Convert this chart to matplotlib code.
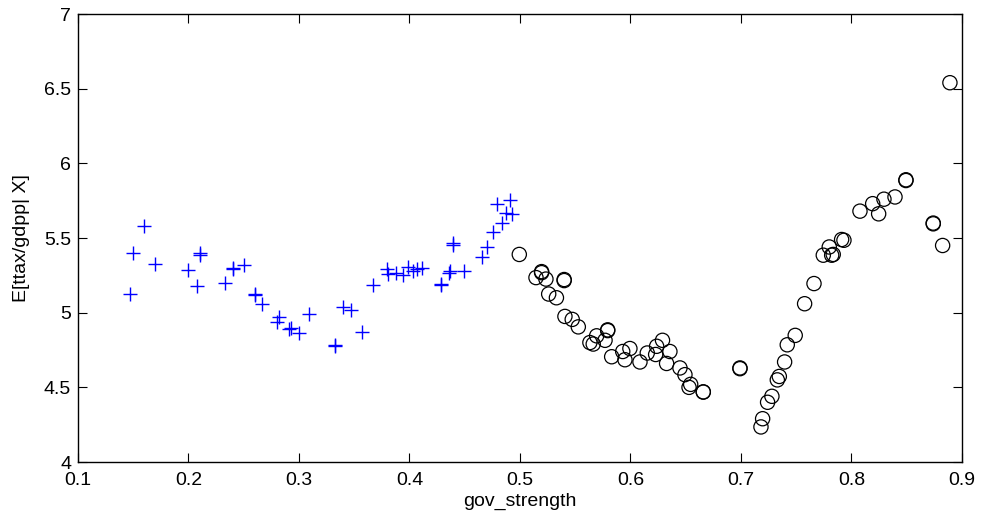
import numpy as np
import matplotlib
matplotlib.use("Agg")
import matplotlib.pyplot as plt

plt.rcParams['font.family'] = ['Liberation Sans', 'DejaVu Sans']

# low gov_strength group (blue pluses)
x_low = [0.160, 0.150, 0.210, 0.210, 0.170, 0.200, 0.240, 0.240, 0.250, 0.147,
         0.208, 0.233, 0.260, 0.260, 0.2665, 0.282, 0.280, 0.291, 0.293, 0.300,
         0.309, 0.333, 0.333, 0.3395, 0.347, 0.357, 0.367, 0.380, 0.381, 0.388,
         0.394, 0.399, 0.4035, 0.407, 0.4116, 0.4285, 0.4285, 0.436, 0.437, 0.4396,
         0.4396, 0.449, 0.466, 0.470, 0.476, 0.484, 0.487, 0.493, 0.4795, 0.491]
y_low = [5.582, 5.399, 5.399, 5.385, 5.327, 5.284, 5.301, 5.290, 5.317, 5.127,
         5.181, 5.199, 5.127, 5.120, 5.056, 4.971, 4.940, 4.893, 4.897, 4.864,
         4.989, 4.785, 4.775, 5.038, 5.016, 4.873, 5.185, 5.294, 5.261, 5.268,
         5.250, 5.304, 5.281, 5.290, 5.297, 5.194, 5.184, 5.264, 5.281, 5.464,
         5.455, 5.277, 5.375, 5.442, 5.538, 5.598, 5.669, 5.659, 5.726, 5.754]

# high gov_strength group (black circles)
x_high = [0.4994, 0.5196, 0.5196, 0.5145, 0.5235, 0.540, 0.540, 0.526, 0.533, 0.5407,
          0.5473, 0.5528, 0.5694, 0.5794, 0.5794, 0.577, 0.5633, 0.5663, 0.583, 0.593,
          0.5995, 0.595, 0.6086, 0.6152, 0.6228, 0.6237, 0.629, 0.6357, 0.6327, 0.6448,
          0.6493, 0.6545, 0.653, 0.6659, 0.6659, 0.6991, 0.6991, 0.7181, 0.7196, 0.7241,
          0.728, 0.7329, 0.7347, 0.7395, 0.7419, 0.7491, 0.7576, 0.7661, 0.7745, 0.7799,
          0.7821, 0.7835, 0.7911, 0.7932, 0.8077, 0.8192, 0.8246, 0.8294, 0.8394, 0.8493,
          0.8493, 0.874, 0.874, 0.8825, 0.8891]
y_high = [5.390, 5.275, 5.268, 5.235, 5.225, 5.222, 5.215, 5.125, 5.100, 4.975,
          4.955, 4.905, 4.845, 4.885, 4.880, 4.815, 4.800, 4.790, 4.705, 4.740,
          4.760, 4.685, 4.670, 4.730, 4.720, 4.775, 4.815, 4.740, 4.660, 4.630,
          4.585, 4.520, 4.500, 4.470, 4.468, 4.630, 4.625, 4.235, 4.290, 4.400,
          4.440, 4.550, 4.573, 4.670, 4.785, 4.848, 5.060, 5.195, 5.385, 5.440,
          5.385, 5.390, 5.490, 5.485, 5.680, 5.730, 5.662, 5.760, 5.775, 5.890,
          5.885, 5.600, 5.595, 5.450, 6.540]

fig = plt.figure(figsize=(9.83, 5.27), dpi=100)
ax = fig.add_axes([0.0793, 0.1233, 0.8993, 0.8501])

ax.scatter(x_low, y_low, marker="+", s=110, color="blue", linewidths=1.0)
ax.scatter(x_high, y_high, marker="o", s=105, facecolors="none",
           edgecolors="black", linewidths=0.9)

ax.set_xlim(0.1, 0.9)
ax.set_ylim(4, 7)
ax.set_xticks(np.arange(0.1, 0.91, 0.1))
ax.set_xticklabels(["0.1", "0.2", "0.3", "0.4", "0.5", "0.6", "0.7", "0.8", "0.9"])
ax.set_yticks([4, 4.5, 5, 5.5, 6, 6.5, 7])
ax.set_yticklabels(["4", "4.5", "5", "5.5", "6", "6.5", "7"])
ax.tick_params(direction="in", length=6.5, width=0.8, top=True, right=True,
               labelsize=14)
ax.tick_params(axis="x", pad=7)
ax.tick_params(axis="y", pad=5)
for sp in ax.spines.values():
    sp.set_linewidth(1.0)

ax.set_xlabel("gov_strength", fontsize=14, labelpad=3)
ax.set_ylabel("E[ttax/gdpp| X]", fontsize=14, labelpad=10)

fig.savefig("out.png", dpi=100)
